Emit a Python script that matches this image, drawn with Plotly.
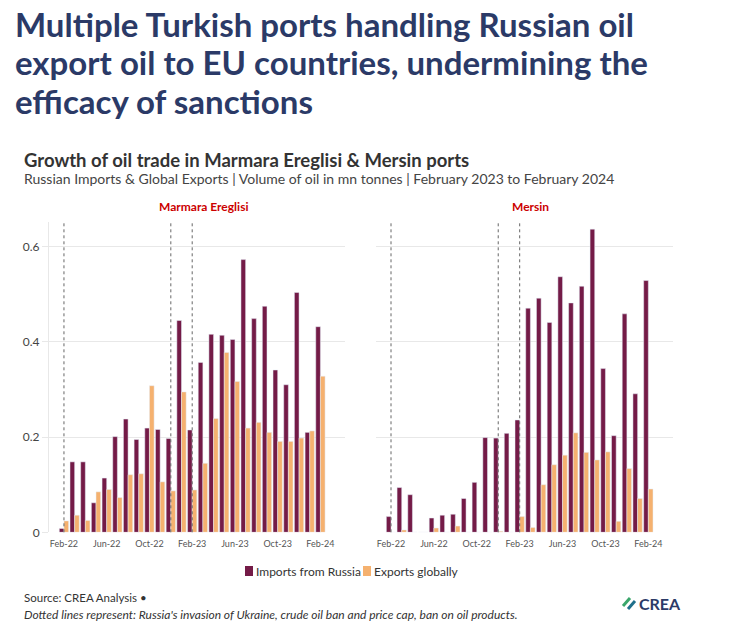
import plotly.graph_objects as go

# Month categories (Feb-22 .. Feb-24)
months = ["Feb-22", "Mar-22", "Apr-22", "May-22", "Jun-22", "Jul-22", "Aug-22",
          "Sep-22", "Oct-22", "Nov-22", "Dec-22", "Jan-23", "Feb-23", "Mar-23",
          "Apr-23", "May-23", "Jun-23", "Jul-23", "Aug-23", "Sep-23", "Oct-23",
          "Nov-23", "Dec-23", "Jan-24", "Feb-24"]
tick_months = ["Feb-22", "Jun-22", "Oct-22", "Feb-23", "Jun-23", "Oct-23", "Feb-24"]

# Marmara Ereglisi, mn tonnes
marmara_imports = [0.008, 0.148, 0.148, 0.062, 0.114, 0.201, 0.238, 0.195, 0.219,
                   0.216, 0.197, 0.445, 0.215, 0.357, 0.416, 0.414, 0.405, 0.573,
                   0.449, 0.475, 0.341, 0.310, 0.504, 0.210, 0.432]
marmara_exports = [0.024, 0.036, 0.025, 0.085, 0.090, 0.073, 0.121, 0.123, 0.308,
                   0.106, 0.087, 0.295, 0.089, 0.145, 0.239, 0.378, 0.317, 0.219,
                   0.231, 0.210, 0.191, 0.191, 0.198, 0.213, 0.328]

# Mersin, mn tonnes
mersin_imports = [0.033, 0.094, 0.079, 0.0, 0.030, 0.036, 0.038, 0.071, 0.105,
                  0.199, 0.198, 0.208, 0.236, 0.471, 0.492, 0.441, 0.537, 0.482,
                  0.517, 0.637, 0.344, 0.203, 0.459, 0.291, 0.529]
mersin_exports = [0.0, 0.005, 0.0, 0.0, 0.009, 0.0, 0.013, 0.0, 0.0,
                  0.0, 0.002, 0.0, 0.033, 0.010, 0.100, 0.142, 0.162, 0.209,
                  0.168, 0.152, 0.169, 0.023, 0.134, 0.071, 0.091]

# Event markers: invasion of Ukraine, crude oil ban & price cap, oil products ban
event_months = ["Feb-22", "Dec-22", "Feb-23"]

title_lines = ["Multiple Turkish ports handling Russian oil",
               "export oil to EU countries, undermining the",
               "efficacy of sanctions"]

IMPORT_COLOR = "#741b47"
EXPORT_COLOR = "#f5b16f"
FONT = "Source Sans Pro, Lato, sans-serif"
# the page viewport comes out a little taller than the 638px picture
W, H = 729, 645
REF_W, REF_H = 729, 638


def px(x):
    # reference pixel -> paper x
    return x / REF_W


def py(y):
    # reference pixel -> paper y
    return 1 - y / REF_H


fig = go.Figure()

panels = [("x", "y", marmara_imports, marmara_exports),
          ("x2", "y2", mersin_imports, mersin_exports)]

for xa, ya, imp, exp in panels:
    fig.add_trace(go.Bar(x=months, y=imp, name="Imports from Russia",
                         marker_color=IMPORT_COLOR, xaxis=xa, yaxis=ya,
                         showlegend=False))
    fig.add_trace(go.Bar(x=months, y=exp, name="Exports globally",
                         marker_color=EXPORT_COLOR, xaxis=xa, yaxis=ya,
                         showlegend=False))
    for m in event_months:
        fig.add_shape(type="line", xref=xa, yref=ya + " domain",
                      x0=m, x1=m, y0=0, y1=1,
                      line=dict(color="#666666", width=1, dash="dot"),
                      layer="above")

xaxis_common = dict(type="category", categoryorder="array", categoryarray=months,
                    tickmode="array", tickvals=tick_months, ticktext=tick_months,
                    range=[-1.4, 26.3], showgrid=False, zeroline=False,
                    showline=False, ticks="", ticklabelstandoff=5,
                    tickfont=dict(family=FONT, size=9, color="#555555"))
yaxis_common = dict(range=[0, 0.652], tickvals=[0, 0.2, 0.4, 0.6],
                    showgrid=True, gridcolor="#e8e8e8", gridwidth=1,
                    zeroline=False, domain=[py(532.3), py(222)],
                    tickfont=dict(family=FONT, size=12, color="#444444"))

fig.update_layout(
    width=W, height=H,
    margin=dict(l=0, r=0, t=0, b=0),
    paper_bgcolor="white", plot_bgcolor="white",
    barmode="group", bargap=0.13, bargroupgap=0,
    font=dict(family=FONT, color="#333333"),
    xaxis=dict(xaxis_common, domain=[px(49), px(345)], anchor="y"),
    xaxis2=dict(xaxis_common, domain=[px(376), px(673)], anchor="y2"),
    yaxis=dict(yaxis_common, anchor="x", showline=True, linecolor="#e8e8e8",
               ticks="outside", ticklen=6, tickcolor="#e8e8e8"),
    yaxis2=dict(yaxis_common, anchor="x2", showticklabels=False),
)

annotations = []
for i, line in enumerate(title_lines):
    annotations.append(dict(text="<b>" + line + "</b>", x=px(13), y=py(23.5 + 38.5 * i),
                            xanchor="left", yanchor="middle", align="left",
                            font=dict(family=FONT, size=33, color="#2b3a67")))
annotations += [
    dict(text="<b>Growth of oil trade in Marmara Ereglisi & Mersin ports</b>",
         x=px(22), y=py(160), xanchor="left", yanchor="middle", align="left",
         font=dict(family=FONT, size=18.5, color="#333333")),
    dict(text="Russian Imports & Global Exports | Volume of oil in mn tonnes | "
              "February 2023 to February 2024",
         x=px(22), y=py(178), xanchor="left", yanchor="middle", align="left",
         font=dict(family=FONT, size=14, color="#444444")),
    dict(text="<b>Marmara Ereglisi</b>", x=px(203), y=py(207),
         xanchor="center", yanchor="middle",
         font=dict(family=FONT, size=12, color="#cc0000")),
    dict(text="<b>Mersin</b>", x=px(530), y=py(207),
         xanchor="center", yanchor="middle",
         font=dict(family=FONT, size=12, color="#cc0000")),
    dict(text="Imports from Russia", x=px(254), y=py(571),
         xanchor="left", yanchor="middle",
         font=dict(family=FONT, size=12, color="#333333")),
    dict(text="Exports globally", x=px(372), y=py(571),
         xanchor="left", yanchor="middle",
         font=dict(family=FONT, size=12, color="#333333")),
    dict(text="Source: CREA Analysis •", x=px(22), y=py(597),
         xanchor="left", yanchor="middle", align="left",
         font=dict(family=FONT, size=11.5, color="#333333")),
    dict(text="<i>Dotted lines represent: Russia's invasion of Ukraine, crude oil ban "
              "and price cap, ban on oil products.</i>",
         x=px(22), y=py(614), xanchor="left", yanchor="middle", align="left",
         font=dict(family=FONT, size=12, color="#333333")),
    dict(text="<b>CREA</b>", x=px(637), y=py(603), xanchor="left", yanchor="middle",
         font=dict(family=FONT, size=16, color="#2b3a67")),
]
for a in annotations:
    a.update(xref="paper", yref="paper", showarrow=False)
fig.update_layout(annotations=annotations)

# legend swatches
for x0, col in [(245, IMPORT_COLOR), (363, EXPORT_COLOR)]:
    fig.add_shape(type="rect", xref="paper", yref="paper",
                  x0=px(x0), x1=px(x0 + 8), y0=py(576), y1=py(566),
                  fillcolor=col, line=dict(width=0))

# small CREA mark
fig.add_shape(type="line", xref="paper", yref="paper",
              x0=px(623), y0=py(606), x1=px(630), y1=py(598),
              line=dict(color="#3aa66b", width=3))
fig.add_shape(type="line", xref="paper", yref="paper",
              x0=px(628), y0=py(609), x1=px(635), y1=py(601),
              line=dict(color="#1f6f8b", width=3))

# drop the default page margin so the figure sits at the window's corner
fig.write_html("out.html", config={"displayModeBar": False},
               post_script="document.body.style.margin='0';"
                           "document.body.style.overflow='hidden';")
